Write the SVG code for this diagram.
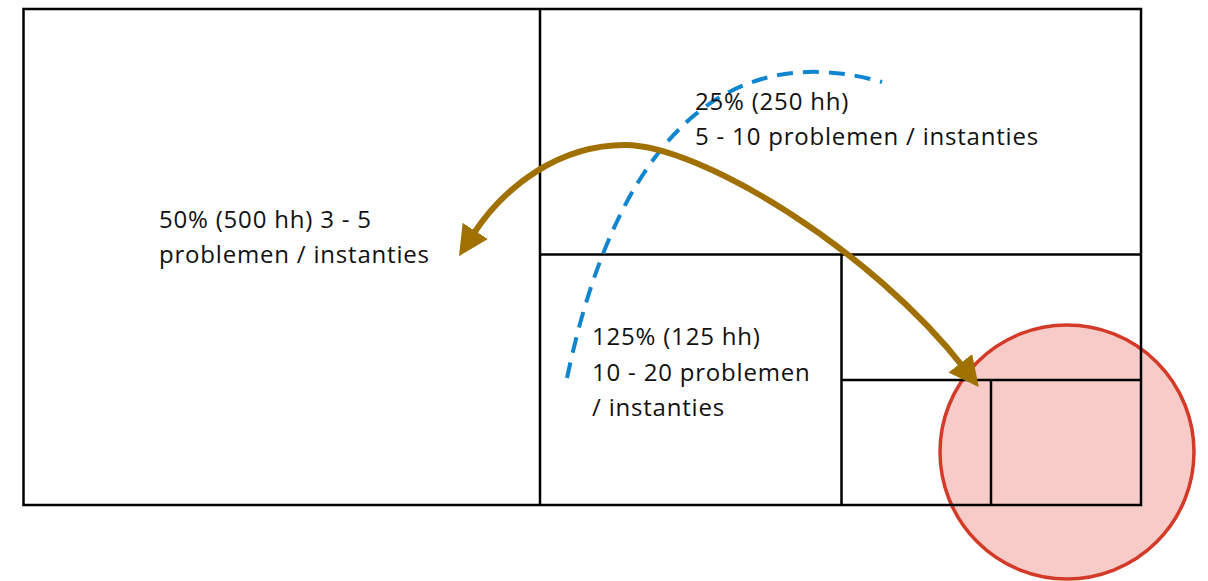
<svg xmlns="http://www.w3.org/2000/svg" width="1208" height="581" viewBox="0 0 1208 581">
<style>
.ln{fill:none;stroke:#000;stroke-width:2.5}
.t{font-family:"Open Sans","Noto Sans",sans-serif;font-size:24px;letter-spacing:0.8px;fill:#111}
</style>
<defs>
<marker id="ah" viewBox="0 0 10 10" refX="2" refY="5" markerWidth="5" markerHeight="5" orient="auto-start-reverse" markerUnits="strokeWidth">
<path d="M0,0 L10,5 L0,10 z" fill="#a07000"/>
</marker>
</defs>
<rect width="1208" height="581" fill="#fff"/>
<g id="circle"><circle cx="1067" cy="452" r="127" fill="#f7cbc8" stroke="#d43a28" stroke-width="3.5"/></g>
<g id="grid">
<rect class="ln" x="23.5" y="9" width="1117.5" height="496"/>
<line class="ln" x1="540" y1="9" x2="540" y2="505"/>
<line class="ln" x1="540" y1="254.5" x2="1141" y2="254.5"/>
<line class="ln" x1="841.5" y1="254.5" x2="841.5" y2="505"/>
<line class="ln" x1="841.5" y1="380" x2="1141" y2="380"/>
<line class="ln" x1="991" y1="380" x2="991" y2="505"/>
</g>
<g id="connectors">
<path d="M567,378 C600,220 680,25 882,82" fill="none" stroke="#0f86cf" stroke-width="4" stroke-dasharray="16,10"/>
<path d="M472,236 C505,185 560,145 625,145 C700,145 872,250 964,368" fill="none" stroke="#a07000" stroke-width="6" marker-start="url(#ah)" marker-end="url(#ah)"/>
</g>
<g id="label50"><text class="t" x="159" y="228">50% (500 hh) 3 - 5</text><text class="t" x="159" y="263">problemen / instanties</text></g>
<g id="label25"><text class="t" x="695" y="110">25% (250 hh)</text><text class="t" x="695" y="145">5 - 10 problemen / instanties</text></g>
<g id="label125"><text class="t" x="592" y="345">125% (125 hh)</text><text class="t" x="592" y="381">10 - 20 problemen</text><text class="t" x="592" y="416">/ instanties</text></g>
</svg>
